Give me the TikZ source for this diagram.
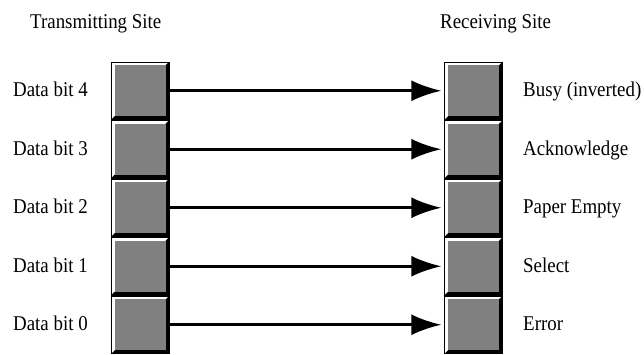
\documentclass[tikz,border=0pt]{standalone}
\usepackage{fontspec}
\setmainfont[FakeStretch=0.9]{Liberation Serif}
\usetikzlibrary{arrows.meta,calc}
\definecolor{boxgray}{HTML}{808080}
\begin{document}
\begin{tikzpicture}[x=1pt,y=1pt,
  bitbox/.style={draw=black, line width=0.8pt, fill=white,
    minimum width=57.5pt, minimum height=57.5pt, inner sep=0pt, outer sep=0pt,
    path picture={
      \fill[black] (path picture bounding box.north east)
        -- (path picture bounding box.south east)
        -- (path picture bounding box.south west)
        -- ([shift={(3.4,3.4)}]path picture bounding box.south west)
        -- ([shift={(-3.4,3.4)}]path picture bounding box.south east)
        -- ([shift={(-3.4,-3.4)}]path picture bounding box.north east) -- cycle;
      \fill[boxgray] ([shift={(3.4,-3.4)}]path picture bounding box.north west)
        rectangle ([shift={(-3.4,3.4)}]path picture bounding box.south east);
    }},
  lbl/.style={font=\fontsize{21}{24}\selectfont, anchor=base west, inner sep=0pt},
  sig/.style={line width=2.6pt, -{Latex[length=30pt,width=21pt]}, shorten >=3.5pt}
]
\useasboundingbox (0,0) rectangle (644,355);
\fill[white] (0,0) rectangle (644,355);

\node[lbl] (tx) at (30,326) {Transmitting Site};
\node[lbl] (rx) at (440,326) {Receiving Site};

\node[bitbox] (t4) at (140.25,264.25) {};
\node[bitbox] (t3) at (140.25,205.75) {};
\node[bitbox] (t2) at (140.25,147.25) {};
\node[bitbox] (t1) at (140.25,88.75) {};
\node[bitbox] (t0) at (140.25,30.25) {};

\node[bitbox] (r4) at (473.5,264.25) {};
\node[bitbox] (r3) at (473.5,205.75) {};
\node[bitbox] (r2) at (473.5,147.25) {};
\node[bitbox] (r1) at (473.5,88.75) {};
\node[bitbox] (r0) at (473.5,30.25) {};

\node[lbl] (lt4) at (13,258) {Data bit 4};
\node[lbl] (lt3) at (13,199.5) {Data bit 3};
\node[lbl] (lt2) at (13,141) {Data bit 2};
\node[lbl] (lt1) at (13,82.5) {Data bit 1};
\node[lbl] (lt0) at (13,24) {Data bit 0};

\node[lbl] (lr4) at (523,258) {Busy (inverted)};
\node[lbl] (lr3) at (523,199.5) {Acknowledge};
\node[lbl] (lr2) at (523,141) {Paper Empty};
\node[lbl] (lr1) at (523,82.5) {Select};
\node[lbl] (lr0) at (523,24) {Error};

\draw[sig] (t4) -- (r4);
\draw[sig] (t3) -- (r3);
\draw[sig] (t2) -- (r2);
\draw[sig] (t1) -- (r1);
\draw[sig] (t0) -- (r0);
\end{tikzpicture}
\end{document}
